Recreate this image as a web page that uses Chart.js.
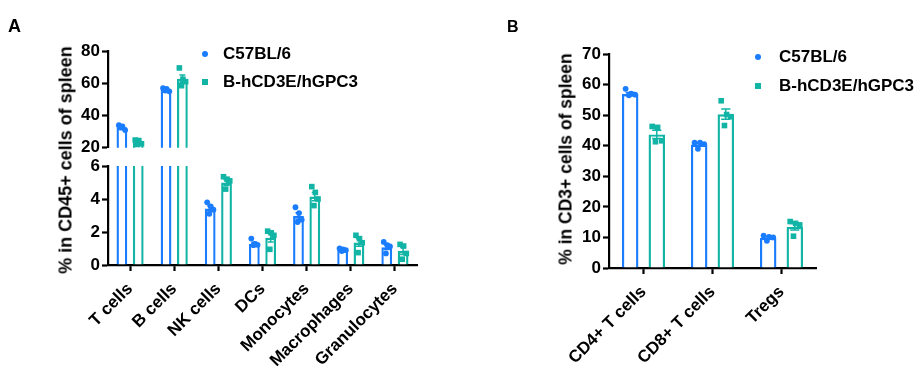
<!DOCTYPE html>
<html>
<head>
<meta charset="utf-8">
<script src="https://cdn.jsdelivr.net/npm/chart.js@4/dist/chart.umd.min.js"></script>
<style>
  html, body { margin: 0; padding: 0; background: #fff; }
  #wrap { position: relative; width: 919px; height: 383px; background: #fff; overflow: hidden;
          font-family: 'Liberation Sans', Arial, sans-serif; font-weight: bold; color: #000; }
  .cv { position: absolute; }
  .txt { position: absolute; white-space: nowrap; }
  .rot { transform: translate(-50%, -50%) rotate(-90deg); }
  .leg { position: absolute; white-space: nowrap; font-size: 17px; transform: translateY(-50%); }
  .dot { position: absolute; width: 6px; height: 6px; border-radius: 50%; transform: translate(-50%, -50%); }
  .sq { position: absolute; width: 6px; height: 6px; transform: translate(-50%, -50%); }
</style>
</head>
<body>
<div id="wrap">
  <canvas id="aTop" class="cv" width="460" height="160" style="left:0;top:0;"></canvas>
  <canvas id="aBot" class="cv" width="460" height="233" style="left:0;top:150px;"></canvas>
  <canvas id="bCh" class="cv" width="459" height="383" style="left:460px;top:0;"></canvas>

  <div class="txt" style="left:8px;top:16px;font-size:18px;">A</div>
  <div class="txt" style="left:507px;top:18px;font-size:16px;">B</div>

  <div class="txt rot" style="left:66px;top:160px;font-size:18px;">% in CD45+ cells of spleen</div>
  <div class="txt rot" style="left:566px;top:159px;font-size:17.5px;">% in CD3+ cells of spleen</div>

  <div class="dot" style="left:205px;top:54px;background:#1A7CFF;"></div>
  <div class="leg" style="left:223px;top:54px;">C57BL/6</div>
  <div class="sq" style="left:205px;top:82px;background:#12B5A5;"></div>
  <div class="leg" style="left:223px;top:82px;">B-hCD3E/hGPC3</div>

  <div class="dot" style="left:758px;top:57px;background:#1A7CFF;"></div>
  <div class="leg" style="left:779px;top:57px;">C57BL/6</div>
  <div class="sq" style="left:758px;top:86px;background:#12B5A5;"></div>
  <div class="leg" style="left:779px;top:86px;">B-hCD3E/hGPC3</div>
</div>

<script>
// ---------------- DATA ----------------
const seriesNames = ['C57BL/6', 'B-hCD3E/hGPC3'];

const catsA = ['T cells', 'B cells', 'NK cells', 'DCs', 'Monocytes', 'Macrophages', 'Granulocytes'];
const meanA_C57 = [32.7, 56.0, 3.42, 1.28, 2.97, 0.92, 1.08];
const meanA_hGPC3 = [23.5, 62.8, 5.0, 1.65, 4.15, 1.36, 0.85];
const ptsA_C57 = [
  [34.0, 33.2, 31.0, 32.5],
  [57.0, 56.5, 55.0, 55.5],
  [3.8, 3.55, 3.35, 3.1],
  [1.6, 1.28, 1.22, 1.2],
  [3.5, 3.15, 2.75, 2.6],
  [1.0, 0.95, 0.9, 0.85],
  [1.4, 1.2, 1.12, 0.7]
];
const ptsA_hGPC3 = [
  [24.8, 24.5, 22.5, 22.0],
  [69.5, 62.5, 61.0, 58.5],
  [5.35, 5.2, 5.1, 4.6],
  [2.05, 1.95, 1.8, 0.95],
  [4.75, 4.4, 4.0, 3.6],
  [1.8, 1.6, 1.35, 0.75],
  [1.25, 1.15, 0.7, 0.35]
];
const ticksA_upper = [20, 40, 60, 80];
const ticksA_lower = [0, 2, 4, 6];

const catsB = ['CD4+ T cells', 'CD8+ T cells', 'Tregs'];
const meanB_C57 = [56.9, 40.4, 9.9];
const meanB_hGPC3 = [43.7, 50.3, 13.5];
const ptsB_C57 = [
  [58.6, 57.0, 56.7, 56.5],
  [41.0, 41.0, 40.5, 39.0],
  [10.6, 10.2, 10.0, 8.9]
];
const ptsB_hGPC3 = [
  [46.3, 46.0, 41.6, 41.3],
  [54.7, 50.2, 49.5, 46.6],
  [15.2, 14.6, 14.1, 10.4]
];
const ticksB = [0, 10, 20, 30, 40, 50, 60, 70];

// ---------------- STYLE ----------------
const BLUE = '#1A7CFF';
const TEAL = '#12B5A5';
const FONT = { family: "'Liberation Sans', Arial, sans-serif", weight: 'bold', size: 17 };

// error bars (mean ± SEM) and replicate points
const semPlugin = {
  id: 'semPts',
  afterDatasetsDraw(chart) {
    const { ctx, chartArea: a } = chart;
    ctx.save();
    ctx.beginPath();
    ctx.rect(a.left, a.top - 1, a.right - a.left, a.bottom - a.top + 1);
    ctx.clip();
    const jit = [-0.28, 0.05, 0.3, -0.08];
    chart.data.datasets.forEach((ds, di) => {
      const meta = chart.getDatasetMeta(di);
      const ys = chart.scales[meta.yAxisID];
      const color = ds.borderColor;
      (ds.reps || []).forEach((vals, j) => {
        const el = meta.data[j];
        if (!el) return;
        const w = el.width;
        const x = el.x;
        const n = vals.length;
        const m = vals.reduce((s, v) => s + v, 0) / n;
        const sd = Math.sqrt(vals.reduce((s, v) => s + (v - m) * (v - m), 0) / (n - 1));
        const sem = sd / Math.sqrt(n);
        const mean = ds.data[j];
        const yHi = ys.getPixelForValue(mean + sem);
        const yLo = ys.getPixelForValue(mean - sem);
        const cap = w * 0.28;
        ctx.strokeStyle = color;
        ctx.lineWidth = 1.5;
        ctx.beginPath();
        ctx.moveTo(x, yHi); ctx.lineTo(x, yLo);
        ctx.moveTo(x - cap, yHi); ctx.lineTo(x + cap, yHi);
        ctx.moveTo(x - cap, yLo); ctx.lineTo(x + cap, yLo);
        ctx.stroke();
        ctx.fillStyle = color;
        vals.forEach((v, k) => {
          const px = x + jit[k % jit.length] * w;
          const py = ys.getPixelForValue(v);
          if (ds.pointShape === 'rect') {
            ctx.fillRect(px - 2.8, py - 2.8, 5.6, 5.6);
          } else {
            ctx.beginPath();
            ctx.arc(px, py, 2.9, 0, Math.PI * 2);
            ctx.fill();
          }
        });
      });
    });
    ctx.restore();
  }
};

function barSets(m1, m2, p1, p2, cp, bp) {
  return [
    { label: seriesNames[0], data: m1, reps: p1, pointShape: 'circle',
      backgroundColor: '#fff', borderColor: BLUE, borderWidth: 2.4, clip: 0,
      categoryPercentage: cp, barPercentage: bp },
    { label: seriesNames[1], data: m2, reps: p2, pointShape: 'rect',
      backgroundColor: '#fff', borderColor: TEAL, borderWidth: 2.4, clip: 0,
      categoryPercentage: cp, barPercentage: bp }
  ];
}

function yAxis(min, max, tickList, width) {
  return {
    min: min, max: max,
    afterBuildTicks: s => { s.ticks = tickList.map(v => ({ value: v })); },
    afterFit: s => { s.width = width; },
    border: { display: true, color: '#000', width: 2.2 },
    grid: { display: true, drawOnChartArea: false, drawTicks: true, tickLength: 6, tickWidth: 2.2, tickColor: '#000' },
    ticks: { color: '#000', font: FONT, padding: 2 }
  };
}

function xAxis(show, height) {
  return {
    display: show,
    offset: true,
    afterFit: s => { if (show) s.height = height; },
    border: { display: true, color: '#000', width: 2.2 },
    grid: { display: true, offset: false, drawOnChartArea: false, drawTicks: true, tickLength: 6, tickWidth: 2.2, tickColor: '#000' },
    ticks: { color: '#000', font: FONT, minRotation: 45, maxRotation: 45, padding: 8, autoSkip: false }
  };
}

const common = {
  responsive: false,
  animation: false,
  devicePixelRatio: 1,
  plugins: { legend: { display: false }, tooltip: { enabled: false } },
  events: []
};

// Panel A, upper segment (20–80)
new Chart(document.getElementById('aTop'), {
  type: 'bar',
  data: { labels: catsA, datasets: barSets(meanA_C57, meanA_hGPC3, ptsA_C57, ptsA_hGPC3, 0.74, 0.66) },
  options: Object.assign({}, common, {
    layout: { padding: { top: 51, bottom: 10, left: 0, right: 43 } },
    scales: { x: xAxis(false, 0), y: yAxis(20, 80, ticksA_upper, 108) }
  }),
  plugins: [semPlugin]
});

// Panel A, lower segment (0–6)
new Chart(document.getElementById('aBot'), {
  type: 'bar',
  data: { labels: catsA, datasets: barSets(meanA_C57, meanA_hGPC3, ptsA_C57, ptsA_hGPC3, 0.74, 0.66) },
  options: Object.assign({}, common, {
    layout: { padding: { top: 16, bottom: 0, left: 0, right: 43 } },
    scales: { x: xAxis(true, 118), y: yAxis(0, 6, ticksA_lower, 108) }
  }),
  plugins: [semPlugin]
});

// Panel B
new Chart(document.getElementById('bCh'), {
  type: 'bar',
  data: { labels: catsB, datasets: barSets(meanB_C57, meanB_hGPC3, ptsB_C57, ptsB_hGPC3, 0.77, 0.62) },
  options: Object.assign({}, common, {
    layout: { padding: { top: 54, bottom: 0, left: 0, right: 103 } },
    scales: { x: xAxis(true, 115), y: yAxis(0, 70, ticksB, 149) }
  }),
  plugins: [semPlugin]
});
</script>
</body>
</html>
